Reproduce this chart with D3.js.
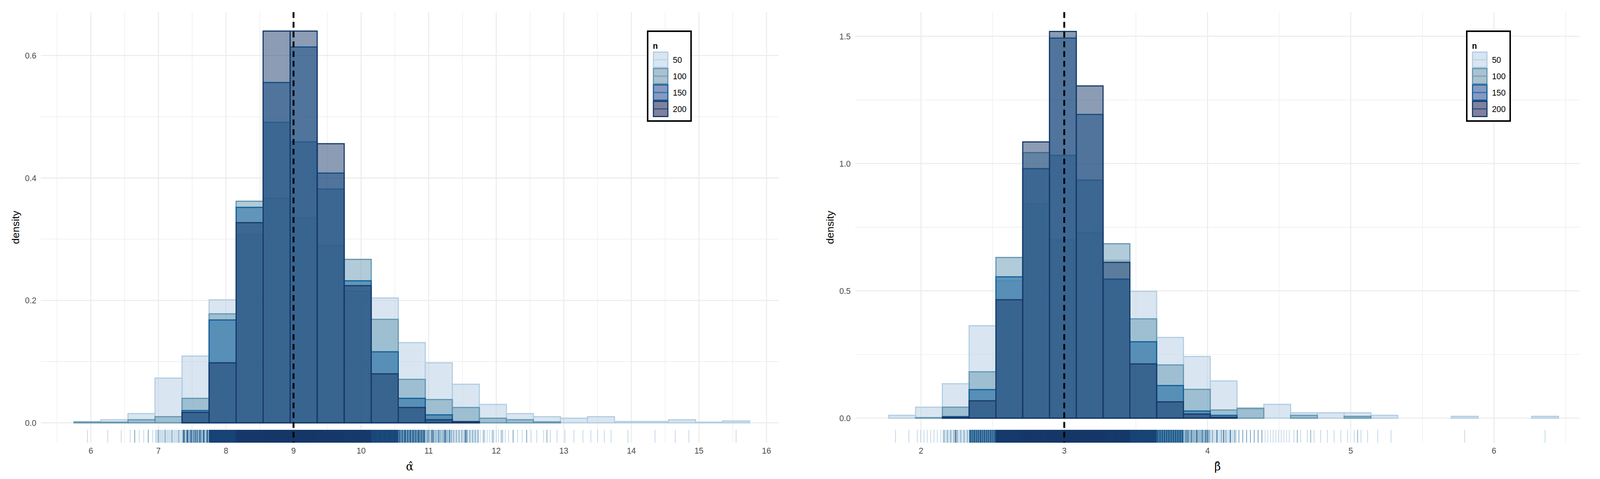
<!DOCTYPE html>
<html><head><meta charset="utf-8">
<script src="https://cdn.jsdelivr.net/npm/d3@7"></script>
<style>html,body{margin:0;padding:0;background:#fff;overflow:hidden}svg{display:block;width:100vw;height:100vh;font-family:"Liberation Sans",Arial,sans-serif}</style>
</head><body><svg id="c" viewBox="0 0 4311 1227" preserveAspectRatio="none"></svg>
<script>
const seriesN = ["50","100","150","200"];
// alpha-hat histogram: bins start 5.75, width 0.4
const alphaStart = 5.75, alphaWidth = 0.4;
const alpha50  = [0.002,0.005,0.015,0.073,0.109,0.201,0.307,0.367,0.335,0.290,0.215,0.204,0.131,0.098,0.063,0.030,0.015,0.010,0.0075,0.010,0.002,0.002,0.005,0.001,0.003];
const alpha100 = [0.001,0.001,0.005,0.010,0.040,0.178,0.362,0.491,0.459,0.382,0.267,0.169,0.071,0.038,0.025,0.0075,0.005,0.0015,0,0,0,0,0,0,0];
const alpha150 = [0,0,0,0,0.020,0.168,0.352,0.556,0.614,0.408,0.232,0.116,0.040,0.013,0.0015,0,0,0,0,0,0,0,0,0,0];
const alpha200 = [0,0,0,0,0.017,0.098,0.327,0.640,0.640,0.456,0.224,0.080,0.025,0.005,0.002,0,0,0,0,0,0,0,0,0,0];
// beta-hat histogram: bins start 1.775, width 0.187
const betaStart = 1.775, betaWidth = 0.187;
const beta50  = [0.011,0.043,0.135,0.363,0.540,0.842,0.700,0.728,0.620,0.498,0.317,0.242,0.146,0.035,0.054,0.021,0.021,0.021,0.011,0,0,0.007,0,0,0.007];
const beta100 = [0,0.002,0.043,0.182,0.631,1.043,1.032,0.935,0.685,0.390,0.209,0.113,0.032,0.039,0,0.011,0,0.007,0,0,0,0,0,0,0];
const beta150 = [0,0,0.006,0.112,0.555,0.980,1.493,1.193,0.546,0.300,0.128,0.028,0.011,0,0,0,0,0,0,0,0,0,0,0,0];
const beta200 = [0,0,0.003,0.068,0.465,1.085,1.519,1.305,0.612,0.213,0.064,0.016,0.003,0,0,0,0,0,0,0,0,0,0,0,0];
const alphaTicks = [6,7,8,9,10,11,12,13,14,15,16];
const alphaYTicks = [0,0.2,0.4,0.6];
const betaTicks = [2,3,4,5,6];
const betaYTicks = [0,0.5,1.0,1.5];
const alphaTrue = 9, betaTrue = 3;
const replications = 1000;

const strokeCol = ["#b3cde3","#6497b1","#11609c","#173a6a"];
const legendFill = ["#b1cbe5","#5783a1","#0f3383","#00033d"];
const svg = d3.select("#c");

function panel(o){
  const g = svg.append("g");
  const x = d3.scaleLinear().domain(o.xd).range([o.x0,o.x1]);
  const y = d3.scaleLinear().domain(o.yd).range([o.yb,o.yt]);
  const xm = d3.range(Math.ceil(o.xd[0]*2)/2, o.xd[1], 0.5).filter(v=>Math.abs(v-Math.round(v))>1e-6);
  const ym = d3.range(o.ystep/2, o.yd[1], o.ystep);
  g.selectAll(".xm").data(xm).join("line").attr("x1",x).attr("x2",x).attr("y1",o.yt).attr("y2",o.yb).attr("stroke","#ebebeb").attr("stroke-width",1.3);
  g.selectAll(".ym").data(ym).join("line").attr("y1",y).attr("y2",y).attr("x1",o.x0).attr("x2",o.x1).attr("stroke","#ebebeb").attr("stroke-width",1.3);
  g.selectAll(".xM").data(o.xt).join("line").attr("x1",x).attr("x2",x).attr("y1",o.yt).attr("y2",o.yb).attr("stroke","#ebebeb").attr("stroke-width",2.6);
  g.selectAll(".yM").data(o.yt_).join("line").attr("y1",y).attr("y2",y).attr("x1",o.x0).attr("x2",o.x1).attr("stroke","#ebebeb").attr("stroke-width",2.6);
  o.series.forEach((arr,si)=>{
    g.append("g").selectAll("rect").data(arr).join("rect")
      .attr("x",(d,i)=>x(o.start+i*o.w)).attr("width",(d,i)=>x(o.start+(i+1)*o.w)-x(o.start+i*o.w))
      .attr("y",d=>y(d)).attr("height",d=>y(0)-y(d))
      .attr("fill",strokeCol[si]).attr("fill-opacity",0.5)
      .attr("stroke",strokeCol[si]).attr("stroke-width",3);
  });
  o.series.forEach((arr,si)=>{
    const pts=[];
    arr.forEach((d,i)=>{const c=Math.round(d*o.w*replications);for(let k=0;k<c;k++)pts.push(o.start+i*o.w+(k+0.5)*o.w/c);});
    g.append("g").selectAll("line").data(pts).join("line").attr("x1",x).attr("x2",x)
      .attr("y1",1101).attr("y2",1134).attr("stroke",strokeCol[si]).attr("stroke-width",2.2).attr("stroke-opacity",0.75);
  });
  g.append("line").attr("x1",x(o.truth)).attr("x2",x(o.truth)).attr("y1",o.yt).attr("y2",1134)
    .attr("stroke","#000").attr("stroke-width",5).attr("stroke-dasharray","15,10");
  g.selectAll(".xl").data(o.xt).join("text").attr("x",x).attr("y",1162).attr("text-anchor","middle")
    .attr("font-size",22).attr("fill","#4d4d4d").text(d=>d);
  g.selectAll(".yl").data(o.yt_).join("text").attr("x",o.x0-12).attr("y",d=>y(d)+8).attr("text-anchor","end")
    .attr("font-size",22).attr("fill","#4d4d4d").text(d=>d3.format(".1f")(d));
  g.append("text").attr("transform",`translate(${o.x0-58},${(o.yt+o.yb)/2}) rotate(-90)`).attr("text-anchor","middle")
    .attr("font-size",27).attr("fill","#000").text("density");
  g.append("text").attr("x",(o.x0+o.x1)/2).attr("y",1205).attr("text-anchor","middle").attr("font-size",30)
    .attr("font-family","DejaVu Serif").text(o.xlab);
  const L=g.append("g").attr("transform",`translate(${o.lx},80)`);
  L.append("rect").attr("x",0).attr("y",0).attr("width",117).attr("height",230).attr("fill","#fff").attr("stroke","#000").attr("stroke-width",4);
  L.append("text").attr("x",14).attr("y",45).attr("font-size",22).attr("font-weight","bold").text("n");
  seriesN.forEach((n,i)=>{
    const ky=52+i*42;
    L.append("rect").attr("x",15.5).attr("y",ky+1.5).attr("width",39).attr("height",39).attr("fill",legendFill[i]).attr("fill-opacity",0.5).attr("stroke",strokeCol[i]).attr("stroke-width",3);
    L.append("line").attr("x1",17).attr("x2",53).attr("y1",ky+21).attr("y2",ky+21).attr("stroke",strokeCol[i]).attr("stroke-width",3).attr("stroke-opacity",0.7);
    L.append("text").attr("x",68).attr("y",ky+29).attr("font-size",22).text(n);
  });
}
panel({xd:[5.26,16.18],yd:[-0.0325,0.671],x0:110,x1:2098,yt:31,yb:1134,ystep:0.2,
  xt:alphaTicks,yt_:alphaYTicks,series:[alpha50,alpha100,alpha150,alpha200],start:alphaStart,w:alphaWidth,
  truth:alphaTrue,xlab:"α\u0302",lx:1745});
panel({xd:[1.54,6.60],yd:[-0.0965,1.595],x0:2304,x1:4257,yt:31,yb:1134,ystep:0.5,
  xt:betaTicks,yt_:betaYTicks,series:[beta50,beta100,beta150,beta200],start:betaStart,w:betaWidth,
  truth:betaTrue,xlab:"β\u0302",lx:3952});
</script></body></html>
